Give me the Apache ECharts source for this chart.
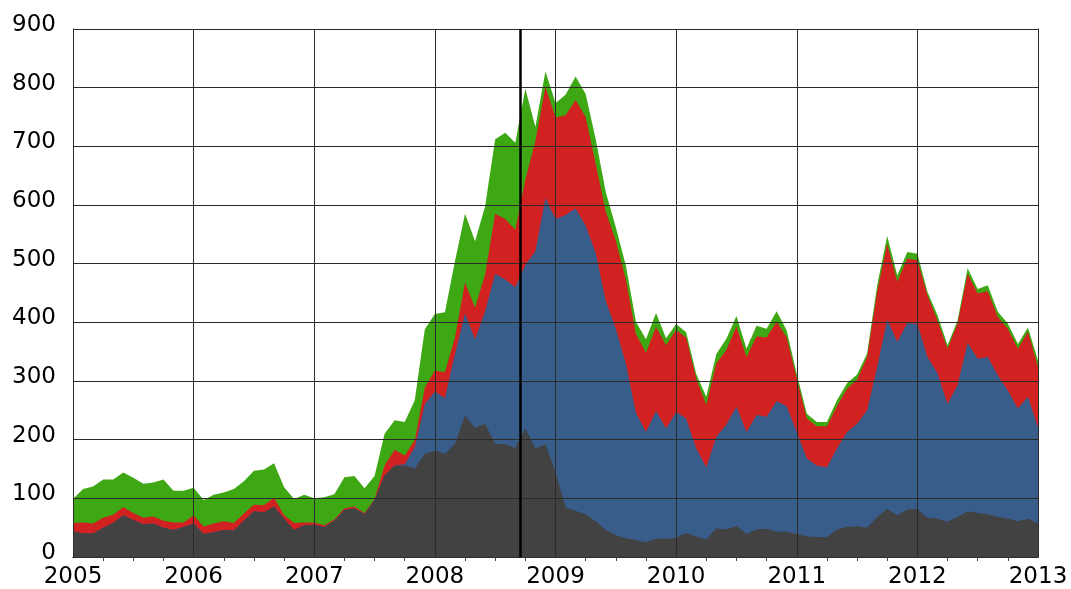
<!DOCTYPE html>
<html>
<head>
<meta charset="utf-8">
<script src="https://cdn.jsdelivr.net/npm/echarts@6/dist/echarts.min.js"></script>
<style>
  html, body { margin: 0; padding: 0; background: #fff; }
  #chart { width: 1071px; height: 589px; }
</style>
</head>
<body>
<div id="chart"></div>
<script>
// monthly values, Jan 2005 .. Jan 2013 (stacked, bottom to top)
const startYear = 2005;
const gray = [44, 40, 40, 50, 58, 71, 63, 56, 57, 50, 46, 51,
  57, 39, 42, 46, 45, 62, 78, 76, 86, 65, 46, 54,
  55, 51, 62, 80, 83, 73, 97, 139, 156, 156, 151, 176,
  181, 176, 193, 241, 220, 227, 193, 192, 186, 219, 185, 192,
  145, 85, 79, 73, 61, 46, 37, 32, 29, 25, 31, 31,
  33, 41, 35, 30, 49, 47, 53, 39, 47, 48, 43, 43,
  39, 35, 34, 34, 47, 51, 53, 50, 68, 82, 71, 81,
  82, 67, 65, 60, 68, 78, 75, 73, 68, 65, 61, 65,
  57];
const blue = [0, 0, 0, 0, 0, 0, 0, 0, 0, 0, 0, 0,
  0, 0, 0, 0, 0, 0, 0, 0, 0, 0, 0, 0,
  0, 0, 0, 0, 0, 0, 0, 0, 0, 2, 36, 85,
  101, 95, 153, 174, 151, 192, 290, 281, 274, 279, 336, 420,
  431, 498, 515, 492, 457, 391, 352, 298, 217, 188, 218, 188,
  214, 195, 150, 123, 156, 179, 203, 174, 195, 191, 223, 214,
  174, 133, 122, 119, 138, 162, 174, 200, 256, 323, 296, 318,
  315, 274, 248, 201, 225, 287, 263, 268, 242, 219, 192, 208,
  164];
const red = [14, 19, 17, 17, 14, 14, 12, 11, 12, 12, 13, 8,
  14, 13, 15, 15, 13, 12, 11, 12, 15, 6, 12, 5,
  4, 3, 2, 3, 3, 2, 2, 17, 27, 15, 12, 28,
  36, 44, 28, 53, 54, 63, 102, 103, 98, 145, 188, 189,
  173, 170, 185, 185, 152, 152, 150, 143, 134, 135, 143, 142,
  140, 138, 119, 106, 125, 127, 137, 128, 134, 135, 135, 117,
  91, 68, 67, 70, 72, 74, 75, 91, 128, 129, 102, 110,
  109, 105, 90, 94, 105, 118, 111, 112, 99, 105, 102, 111,
  103];
const green = [41, 57, 63, 65, 60, 59, 60, 58, 58, 70, 54, 54,
  47, 45, 49, 49, 58, 55, 58, 61, 59, 48, 41, 47,
  41, 48, 43, 53, 52, 42, 39, 54, 50, 57, 68, 99,
  96, 102, 130, 117, 113, 116, 127, 147, 148, 155, 24, 27,
  25, 35, 40, 39, 42, 33, 23, 24, 21, 23, 24, 12,
  10, 9, 8, 14, 16, 19, 18, 14, 18, 15, 18, 12,
  8, 8, 7, 7, 10, 9, 9, 6, 11, 13, 11, 11,
  11, 6, 9, 6, 5, 9, 8, 10, 9, 9, 8, 7,
  11];
const eventDate = 2008 + 8.5 / 12; // mid September 2008

const layers = [gray, blue, red, green];
const colors = ["#424242", "#395d8a", "#d22121", "#3ea714"];
const names = ["gray", "blue", "red", "green"];

const chart = echarts.init(document.getElementById("chart"));

// running totals so each layer's area is filled from zero and the
// lower layers are painted over it
const tops = [];
layers.forEach((arr, idx) => {
  tops.push(arr.map((v, i) => (idx ? tops[idx - 1][i] : 0) + v));
});

const seriesArr = tops
  .map((arr, idx) => {
    return {
      name: names[idx],
      type: "line",
      symbol: "none",
      silent: true,
      lineStyle: { width: 0 },
      areaStyle: { color: colors[idx], opacity: 1 },
      itemStyle: { color: colors[idx] },
      data: arr.map((v, i) => [startYear + i / 12, v]),
    };
  })
  .reverse();

seriesArr[seriesArr.length - 1].markLine = {
  silent: true,
  symbol: "none",
  label: { show: false },
  lineStyle: { color: "#000", width: 2.5, type: "solid" },
  data: [{ xAxis: eventDate }],
};

const frameLine = { show: true, lineStyle: { color: "#2b2b2b", width: 1 } };
const gridLine = { show: true, lineStyle: { color: "#2b2b2b", width: 1 } };
const quarterTick = { show: true, splitNumber: 4, length: 4, lineStyle: { color: "#444" } };

const option = {
  animation: false,
  backgroundColor: "#fff",
  grid: { left: 73, right: 33, top: 29, bottom: 32 },
  xAxis: [
    {
      type: "value",
      min: 2005,
      max: 2013,
      interval: 1,
      z: 5,
      axisLine: frameLine,
      axisTick: { show: false, inside: true },
      minorTick: quarterTick,
      splitLine: gridLine,
      axisLabel: {
        color: "#000",
        fontFamily: "DejaVu Sans",
        fontSize: 23,
        margin: 9,
        formatter: (v) => String(v),
      },
    },
    {
      type: "value",
      position: "top",
      min: 2005,
      max: 2013,
      interval: 1,
      z: 5,
      axisLine: frameLine,
      axisTick: { show: false, inside: true },
      minorTick: quarterTick,
      splitLine: { show: false },
      axisLabel: { show: false },
    },
  ],
  yAxis: [
    {
      type: "value",
      min: 0,
      max: 900,
      interval: 100,
      z: 5,
      axisLine: frameLine,
      axisTick: { show: false },
      splitLine: gridLine,
      axisLabel: {
        color: "#000",
        fontFamily: "DejaVu Sans",
        fontSize: 23,
        margin: 17,
        verticalAlign: "bottom",
        lineHeight: 8,
      },
    },
    {
      type: "value",
      position: "right",
      min: 0,
      max: 900,
      interval: 100,
      z: 5,
      axisLine: frameLine,
      axisTick: { show: false },
      splitLine: { show: false },
      axisLabel: { show: false },
    },
  ],
  series: seriesArr,
};

chart.setOption(option);
</script>
</body>
</html>
